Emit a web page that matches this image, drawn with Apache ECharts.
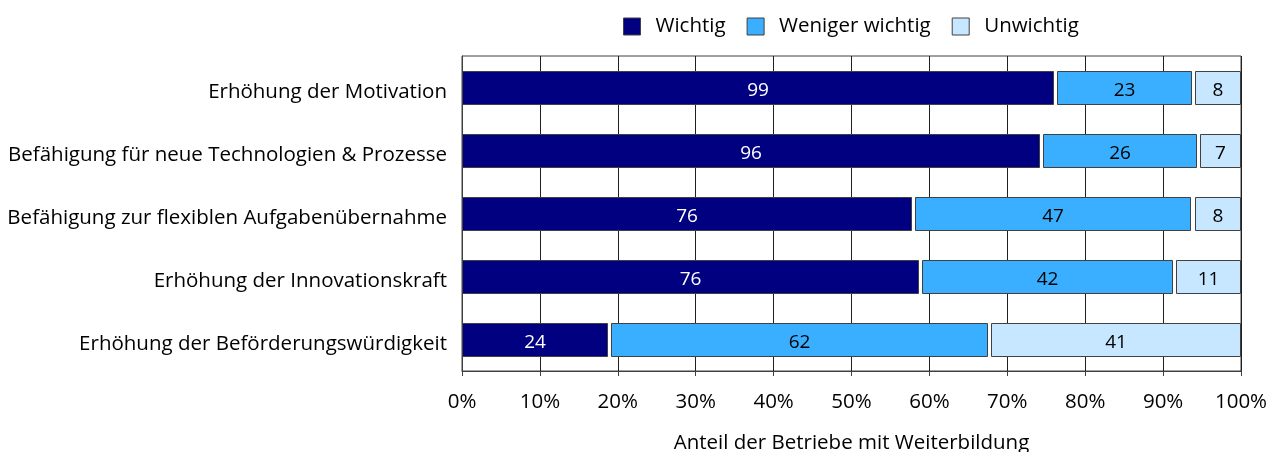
<!DOCTYPE html>
<html><head><meta charset="utf-8">
<script src="https://cdn.jsdelivr.net/npm/echarts@6/dist/echarts.min.js"></script>
<style>html,body{margin:0;padding:0;background:#fff}#c{width:1284px;height:452px}</style>
</head><body><div id="c"></div>
<script>
const categories = ['Erhöhung der Motivation','Befähigung für neue Technologien & Prozesse','Befähigung zur flexiblen Aufgabenübernahme','Erhöhung der Innovationskraft','Erhöhung der Beförderungswürdigkeit'];
const wichtig = [99, 96, 76, 76, 24];
const wenigerWichtig = [23, 26, 47, 42, 62];
const unwichtig = [8, 7, 8, 11, 41];
const xTicks = [0,10,20,30,40,50,60,70,80,90,100];

const seriesDefs = [
  {name:'Wichtig', vals:wichtig, color:'#000080', text:'#ffffff'},
  {name:'Weniger wichtig', vals:wenigerWichtig, color:'#3AAEFF', text:'#000000'},
  {name:'Unwichtig', vals:unwichtig, color:'#C6E7FF', text:'#000000'}
];
const totals = categories.map((c,i)=>wichtig[i]+wenigerWichtig[i]+unwichtig[i]);
const FONT = '"Open Sans", sans-serif';

const cum = categories.map(()=>0);
const series = seriesDefs.map((s,si)=>{
  const data = s.vals.map((v,i)=>{
    const start = cum[i]/totals[i]*100;
    cum[i] += v;
    const end = cum[i]/totals[i]*100;
    return [start, end, i, v];
  });
  return {
    type:'custom', name:s.name,
    itemStyle:{color:s.color, borderColor:'#404040', borderWidth:1},
    encode:{x:[0,1], y:2},
    data,
    renderItem:(params, api)=>{
      const start = api.value(0), end = api.value(1), ci = api.value(2), cnt = api.value(3);
      const p0 = api.coord([start, ci]);
      const p1 = api.coord([end, ci]);
      const bh = 33;
      const gap = 1.5;
      let x0 = p0[0] + (start > 0.01 ? gap : 0);
      let x1 = p1[0] - (end < 99.99 ? gap : 0);
      const y = p0[1] - bh/2;
      return {
        type:'rect',
        shape:{x:Math.round(x0)+0.5, y:Math.round(y)+0.5, width:Math.round(x1-x0)-1, height:bh},
        style:{fill:s.color, stroke:'#404040', lineWidth:1},
        textContent:{style:{text:String(cnt), fill:s.text, font:'19px '+FONT}},
        textConfig:{position:'inside', offset:[0,3]}
      };
    }
  };
});

const chart = echarts.init(document.getElementById('c'), null, {renderer:'canvas'});
chart.setOption({
  animation:false,
  backgroundColor:'#fff',
  textStyle:{fontFamily:FONT},
  legend:{
    top:11, left:618, itemWidth:17, itemHeight:17, itemGap:21,
    icon:'rect',
    textStyle:{fontSize:20.5, color:'#000', fontFamily:FONT, padding:[0,0,0,10]},
    data:seriesDefs.map(s=>({name:s.name, itemStyle:{color:s.color, borderColor:'#404040', borderWidth:1}}))
  },
  grid:{left:462, right:43, top:56, bottom:81, show:true, borderColor:'#404040', borderWidth:1, outerBoundsMode:'none', containLabel:false},
  xAxis:{
    type:'value', min:0, max:100, interval:10,
    axisLabel:{formatter:v=>v+'%', fontSize:20.5, color:'#000', margin:21, fontFamily:FONT},
    axisLine:{show:true, lineStyle:{color:'#404040'}},
    axisTick:{show:true, length:5, lineStyle:{color:'#404040'}},
    splitLine:{show:true, lineStyle:{color:'#202020', width:1}},
    name:'Anteil der Betriebe mit Weiterbildung', nameLocation:'middle', nameGap:62,
    nameTextStyle:{fontSize:20.5, color:'#000', fontFamily:FONT}
  },
  yAxis:{
    type:'category', data:categories, inverse:true,
    axisLabel:{
      margin:15,
      formatter:v=>'{a|'+v+'}',
      rich:{a:{fontSize:20.5, color:'#000', fontFamily:FONT, padding:[10,0,0,0]}}
    },
    axisLine:{show:true, lineStyle:{color:'#404040'}},
    axisTick:{show:false},
    splitLine:{show:false}
  },
  series
});
</script></body></html>
